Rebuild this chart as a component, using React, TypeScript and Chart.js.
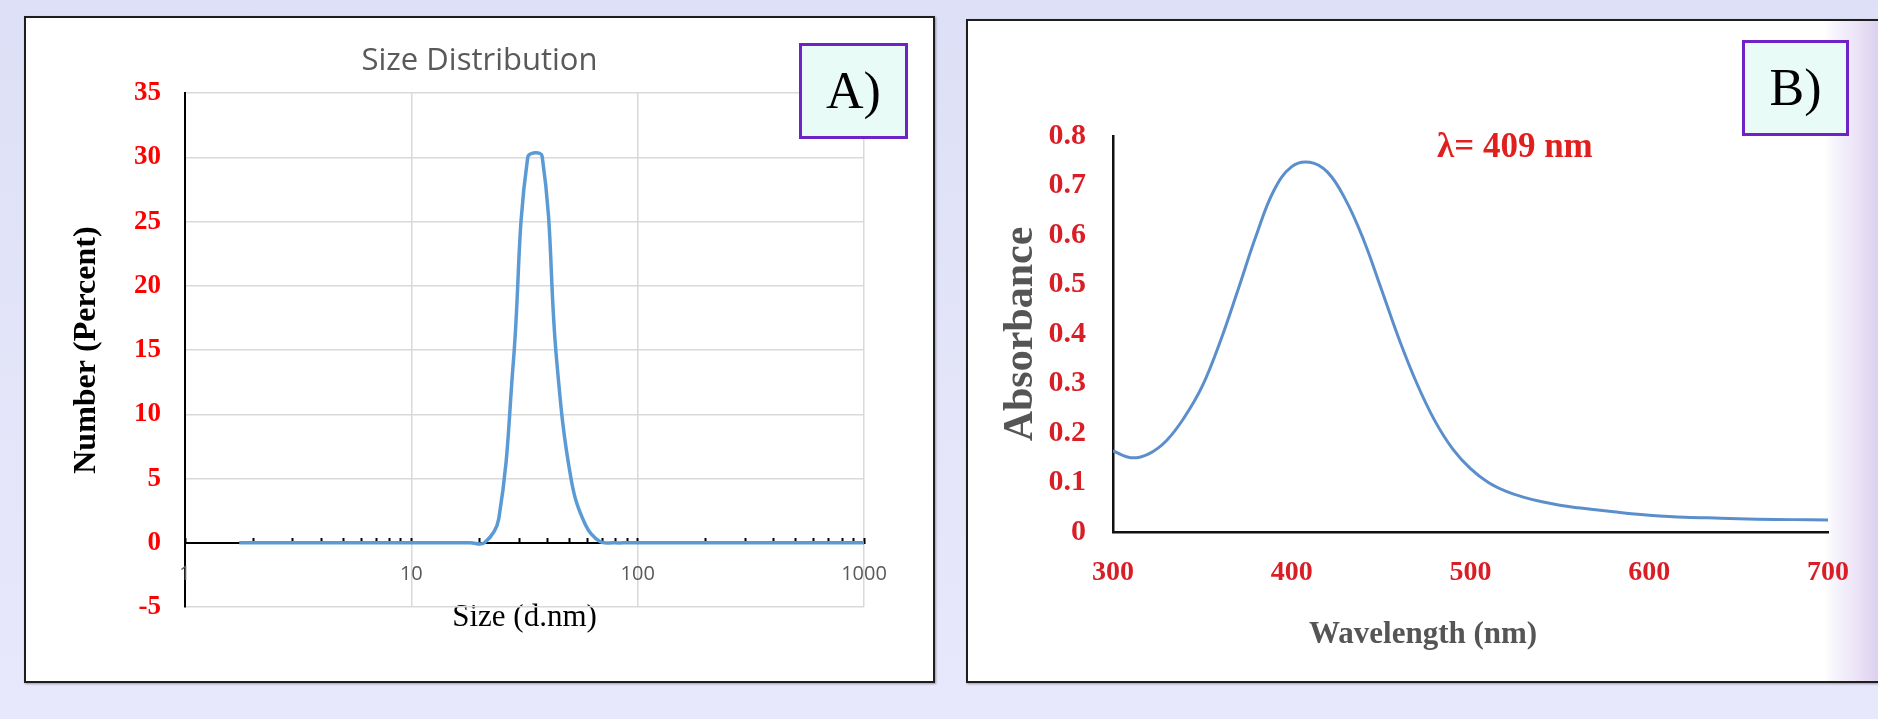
import React, { useEffect, useRef } from "react";
import { Chart, registerables } from "chart.js";

Chart.register(...registerables);

// ---------- Panel A: DLS size distribution ----------
const sizeBins = [
  1.736, 2.01, 2.328, 2.696, 3.122, 3.615, 4.187, 4.849, 5.615, 6.503, 7.531, 8.721,
  10.1, 11.7, 13.54, 15.69, 18.17, 21.04, 24.36, 28.21, 32.67, 37.84, 43.82, 50.75,
  58.77, 68.06, 78.82, 91.28, 105.7, 122.4, 141.8, 164.2, 190.1, 220.2, 255.0, 295.3,
  342.0, 396.1, 458.7, 531.2, 615.1, 712.4, 825.0, 955.4, 1106,
];
const numberPercent = [
  0, 0, 0, 0, 0, 0, 0, 0, 0, 0, 0, 0,
  0, 0, 0, 0, 0, 0, 1.9, 14.0, 30.0, 30.1, 14.3, 5.0,
  1.4, 0.1, 0, 0, 0, 0, 0, 0, 0, 0, 0, 0,
  0, 0, 0, 0, 0, 0, 0, 0, 0,
];
const sizeMajorTicks = [1, 10, 100, 1000];
const sizeAllTicks = [
  1, 2, 3, 4, 5, 6, 7, 8, 9, 10, 20, 30, 40, 50, 60, 70, 80, 90, 100,
  200, 300, 400, 500, 600, 700, 800, 900, 1000,
];

// ---------- Panel B: UV-Vis absorbance ----------
const wavelengths = [
  300, 310, 320, 330, 340, 350, 360, 370, 380, 390, 400, 410, 420, 430, 440, 450,
  460, 470, 480, 490, 500, 510, 520, 530, 540, 550, 560, 570, 580, 590, 600, 620,
  640, 660, 680, 700,
];
const absorbance = [
  0.164, 0.15, 0.158, 0.185, 0.232, 0.295, 0.385, 0.49, 0.598, 0.69, 0.738, 0.747,
  0.727, 0.672, 0.592, 0.492, 0.39, 0.3, 0.225, 0.168, 0.128, 0.1, 0.082, 0.07,
  0.061, 0.054, 0.049, 0.045, 0.041, 0.037, 0.034, 0.03, 0.028, 0.026, 0.025, 0.024,
];

const SERIF = '"Liberation Serif", "Times New Roman", serif';
const SANS = '"Open Sans", sans-serif';

function ChartA() {
  const ref = useRef<HTMLCanvasElement | null>(null);
  useEffect(() => {
    if (!ref.current) return;
    const chart = new Chart(ref.current, {
      type: "line",
      data: {
        datasets: [
          {
            data: sizeBins.map((s, i) => ({ x: s, y: numberPercent[i] })),
            borderColor: "#5B9BD5",
            borderWidth: 3.5,
            pointRadius: 0,
            tension: 0.4,
            fill: false,
            xAxisID: "x",
            yAxisID: "y",
            clip: 0,
          },
        ],
      },
      options: {
        animation: false,
        responsive: false,
        layout: { padding: { left: 69, right: 69, top: 0, bottom: 0 } },
        plugins: {
          legend: { display: false },
          tooltip: { enabled: false },
          title: {
            display: true,
            text: "Size Distribution",
            color: "#595959",
            font: { family: SANS, size: 31, weight: "normal" },
            padding: { top: 25, bottom: 13 },
          },
        },
        scales: {
          x: {
            type: "logarithmic",
            position: "bottom",
            min: 1,
            max: 1000,
            afterBuildTicks: (s: any) => {
              s.ticks = sizeMajorTicks.map((v) => ({ value: v }));
            },
            ticks: { display: false },
            grid: { color: "#D9D9D9", lineWidth: 1.5, drawTicks: false },
            border: { display: false },
            title: {
              display: true,
              text: "Size (d.nm)",
              color: "#000",
              font: { family: SERIF, size: 31, weight: "normal" },
              padding: { top: 0, bottom: 45 },
            },
            afterFit: (s: any) => {
              s.height = 74;
            },
          },
          xTicks: {
            type: "logarithmic",
            axis: "x",
            position: { y: 0 },
            min: 1,
            max: 1000,
            afterBuildTicks: (s: any) => {
              s.ticks = sizeAllTicks.map((v) => ({ value: v }));
            },
            ticks: {
              autoSkip: false,
              maxRotation: 0,
              padding: 26,
              color: "#595959",
              font: { family: SANS, size: 20 },
              z: 1,
              callback: (v: any) => (sizeMajorTicks.includes(Number(v)) ? String(v) : ""),
            },
            grid: {
              display: true,
              drawOnChartArea: false,
              drawTicks: true,
              tickLength: -6,
              tickColor: "#000",
              tickWidth: 2,
            },
            border: { display: true, color: "#000", width: 2 },
          },
          y: {
            min: -5,
            max: 35,
            ticks: {
              stepSize: 5,
              color: "#FF0000",
              font: { family: SERIF, size: 27, weight: "bold" },
              padding: 24,
            },
            grid: { color: "#D9D9D9", lineWidth: 1.5, drawTicks: false },
            border: { color: "#000", width: 2 },
            title: {
              display: true,
              text: "Number (Percent)",
              color: "#000",
              font: { family: SERIF, size: 32, weight: "bold" },
              padding: { top: -27, bottom: 0 },
            },
            afterFit: (s: any) => {
              s.width = 90;
            },
          },
        },
      } as any,
    });
    return () => chart.destroy();
  }, []);
  return <canvas ref={ref} width={907} height={663} style={{ display: "block", width: 907, height: 663 }} />;
}

function ChartB() {
  const ref = useRef<HTMLCanvasElement | null>(null);
  useEffect(() => {
    if (!ref.current) return;
    const red = "#D91E26";
    const chart = new Chart(ref.current, {
      type: "line",
      data: {
        datasets: [
          {
            data: wavelengths.map((w, i) => ({ x: w, y: absorbance[i] })),
            borderColor: "#5A8FCB",
            borderWidth: 3,
            pointRadius: 0,
            tension: 0.4,
            fill: false,
          },
        ],
      },
      options: {
        animation: false,
        responsive: false,
        layout: { padding: { left: 0, right: 50, top: 115, bottom: 0 } },
        plugins: {
          legend: { display: false },
          tooltip: { enabled: false },
          title: { display: false },
        },
        scales: {
          x: {
            type: "linear",
            min: 300,
            max: 700,
            ticks: {
              stepSize: 100,
              color: red,
              font: { family: SERIF, size: 28, weight: "bold" },
              padding: 24,
              maxRotation: 0,
            },
            grid: { display: false, drawTicks: false },
            border: { display: true, color: "#111", width: 2.5 },
            title: { display: false },
            afterFit: (s: any) => {
              s.height = 149;
            },
          },
          y: {
            min: 0,
            max: 0.8,
            ticks: {
              stepSize: 0.1,
              color: red,
              font: { family: SERIF, size: 30, weight: "bold" },
              padding: 27,
              callback: (v: any) => (Number(v) === 0 ? "0" : Number(v).toFixed(1)),
            },
            grid: { display: false, drawTicks: false },
            border: { display: true, color: "#111", width: 2.5 },
            title: {
              display: true,
              text: "Absorbance",
              color: "#555",
              font: { family: SERIF, size: 42, weight: "bold" },
              padding: { top: 28, bottom: 0 },
            },
            afterFit: (s: any) => {
              s.width = 145;
            },
          },
        },
      } as any,
    });
    return () => chart.destroy();
  }, []);
  return <canvas ref={ref} width={910} height={660} style={{ display: "block", width: 910, height: 660 }} />;
}

const labelBox: React.CSSProperties = {
  position: "absolute",
  boxSizing: "border-box",
  border: "3px solid #6E22C8",
  background: "#E8FBF6",
  display: "flex",
  alignItems: "center",
  justifyContent: "center",
  fontFamily: SERIF,
  fontSize: 52,
  color: "#000",
  lineHeight: 1,
};

export default function App() {
  return (
    <div
      style={{
        position: "absolute",
        left: 0,
        top: 0,
        width: 1878,
        height: 719,
        overflow: "hidden",
        background: "linear-gradient(180deg, #DDE0F6 0%, #E4E5F9 60%, #E8E8FC 100%)",
      }}
    >
      <div
        style={{
          position: "absolute",
          left: 24,
          top: 16,
          width: 911,
          height: 667,
          boxSizing: "border-box",
          border: "2px solid #1E1E1E",
          background: "#fff",
          boxShadow: "1px 1px 2px rgba(0,0,0,0.35)",
        }}
      >
        <ChartA />
      </div>
      <div
        style={{
          position: "absolute",
          left: 966,
          top: 19,
          width: 930,
          height: 664,
          boxSizing: "border-box",
          borderTop: "2px solid #1E1E1E",
          borderLeft: "2px solid #1E1E1E",
          borderBottom: "2px solid #1E1E1E",
          background:
            "linear-gradient(90deg, #fff 0px, #fff 856px, #F3F0FA 872px, #ECE4F7 888px, #DCD1EE 910px, #DCD1EE 930px)",
          boxShadow: "1px 1px 2px rgba(0,0,0,0.35)",
        }}
      >
        <ChartB />
      </div>
      <div style={{ ...labelBox, left: 799, top: 43, width: 109, height: 96 }}>A)</div>
      <div style={{ ...labelBox, left: 1742, top: 40, width: 107, height: 96 }}>B)</div>
      <div
        style={{
          position: "absolute",
          left: 1437,
          top: 127,
          fontFamily: SERIF,
          fontWeight: "bold",
          fontSize: 35,
          lineHeight: "38px",
          color: "#E0201F",
          whiteSpace: "nowrap",
        }}
      >
        λ= 409 nm
      </div>
      <div
        style={{
          position: "absolute",
          left: 1309,
          top: 615,
          fontFamily: SERIF,
          fontWeight: "bold",
          fontSize: 31,
          lineHeight: "36px",
          color: "#555",
          whiteSpace: "nowrap",
        }}
      >
        Wavelength (nm)
      </div>
    </div>
  );
}
